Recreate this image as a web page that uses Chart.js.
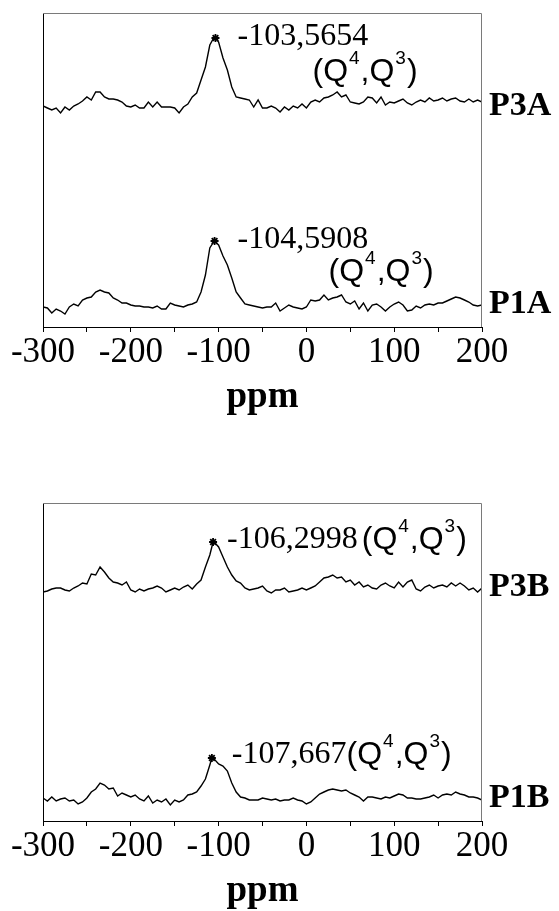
<!DOCTYPE html>
<html>
<head>
<meta charset="utf-8">
<script src="https://cdn.jsdelivr.net/npm/chart.js@4.4.1/dist/chart.umd.min.js"></script>
<style>
  html, body { margin: 0; padding: 0; background: #fff; overflow: hidden; }
  #wrap { position: relative; width: 559px; height: 911px; }
  canvas { position: absolute; left: 0; }
</style>
</head>
<body>
<div id="wrap">
  <canvas id="panelA" width="559" height="424" style="top:0"></canvas>
  <canvas id="panelB" width="559" height="428" style="top:490px"></canvas>
</div>
<script>
// chemical shift grid (ppm), one reading every 5 ppm
const shifts = [
  -300, -295, -290, -285, -280, -275, -270, -265, -260, -255,
  -250, -245, -240, -235, -230, -225, -220, -215, -210, -205,
  -200, -195, -190, -185, -180, -175, -170, -165, -160, -155,
  -150, -145, -140, -135, -130, -125, -120, -115, -110, -105,
  -100, -95, -90, -85, -80, -75, -70, -65, -60, -55,
  -50, -45, -40, -35, -30, -25, -20, -15, -10, -5,
  0, 5, 10, 15, 20, 25, 30, 35, 40, 45,
  50, 55, 60, 65, 70, 75, 80, 85, 90, 95,
  100, 105, 110, 115, 120, 125, 130, 135, 140, 145,
  150, 155, 160, 165, 170, 175, 180, 185, 190, 195,
  200
];

// 29Si intensities (arb. units) for each sample
const p3a = [
  2, 0, -2, 0, -5, 1, -2, 2, 4, 7,
  11, 8, 16, 16, 11, 9, 9, 8, 6, 2,
  1, 3, 0, 0, 6, 1, 6, 1, 1, 1,
  0, -5, 1, 4, 11, 15, 28, 41, 63, 71,
  66, 50, 38, 21, 11, 10, 9, 8, 1, 8,
  0, 0, 2, 0, -4, 1, -2, 2, 0, 4,
  0, 6, 8, 6, 10, 11, 13, 16, 11, 13,
  6, 5, 4, 6, 11, 10, 5, 11, 3, 6,
  5, 7, 9, 5, 3, 6, 8, 6, 10, 7,
  8, 10, 7, 9, 10, 7, 6, 9, 6, 8,
  6
];
const p1a = [
  -1, -2, -7, -3, -5, -8, -1, 2, 0, 6,
  8, 9, 14, 16, 14, 13, 8, 6, 3, 3,
  1, 0, 0, -1, -1, -2, 0, -3, -3, 3,
  1, 0, -1, 1, 2, 4, 14, 31, 58, 65,
  61, 50, 41, 28, 14, 8, 2, 1, 0, -1,
  -2, -1, -1, 3, -5, -2, 1, -1, -2, -3,
  -1, 6, 5, 6, 11, 6, 8, 9, 11, 4,
  2, 5, -3, 3, -5, 1, 2, -1, -5, -1,
  2, 4, 1, -5, -4, 0, -2, 1, 2, 1,
  3, 3, 5, 7, 9, 8, 6, 4, 1, 0,
  1
];
const p3b = [
  -3, -2, 0, 1, 1, -1, -2, 1, 3, 6,
  5, 15, 14, 22, 17, 11, 7, 6, 4, 7,
  -1, -3, 0, -2, 0, 1, 3, 1, -3, -1,
  1, -1, 2, 4, 0, 5, 9, 22, 34, 47,
  42, 32, 22, 14, 8, 6, 1, -1, 0, 1,
  3, -2, -4, -1, -1, 1, -3, -2, -1, 1,
  -1, 1, 3, 7, 11, 12, 14, 11, 12, 7,
  9, 4, 7, 2, 4, 1, 0, 4, 6, 3,
  1, 7, 2, 7, 9, 0, -2, 2, 4, 1,
  3, 4, 2, 6, 3, 6, 3, -1, 1, -3,
  1
];
const p1b = [
  2, -1, 3, -1, 1, 2, -1, 0, -4, -2,
  2, 8, 11, 17, 15, 11, 12, 4, 7, 5,
  3, 5, 1, -1, 4, -3, 0, -2, 1, -5,
  0, -2, 0, 5, 6, 8, 14, 21, 35, 41,
  36, 34, 29, 17, 8, 3, 2, 0, 0, 0,
  2, 1, 0, 1, -1, 0, 0, 2, 0, -1,
  -4, -2, 2, 6, 8, 10, 11, 10, 9, 10,
  7, 5, 3, -1, 3, 3, 2, 1, 3, 2,
  4, 6, 5, 2, 2, 1, 1, 2, 3, 5,
  2, 5, 6, 5, 8, 6, 5, 3, 3, 2,
  0
];

// labelled maxima: position (ppm) and height
const sampleNames = ['P3A', 'P1A', 'P3B', 'P1B'];
const peakShifts = [-103.5654, -104.5908, -106.2998, -107.667];
const peakHeights = [70, 65, 47, 42];

// x-axis tick labels
const xTickLabels = [-300, -200, -100, 0, 100, 200];

function traceData(values, i) {
  const pts = shifts.map((s, k) => ({ x: s, y: values[k] }));
  pts.push({ x: peakShifts[i], y: peakHeights[i] });
  return pts.sort((a, b) => a.x - b.x);
}

// "(Q4,Q3)" with raised site labels
function drawQ(ctx, x, y, size) {
  const parts = [['(', 0], ['Q', 0], ['4', 1], [',', 0], ['Q', 0], ['3', 1], [')', 0]];
  const small = Math.round(size * 0.6);
  ctx.textAlign = 'left';
  ctx.textBaseline = 'middle';
  parts.forEach(([t, sup]) => {
    ctx.font = (sup ? small : size) + 'px "Liberation Sans"';
    ctx.fillText(t, x + (sup ? 1 : 0), sup ? y - size * 0.4 : y);
    x += ctx.measureText(t).width + (sup ? 2 : 0);
  });
}

const labelsPlugin = {
  id: 'spectrumLabels',
  afterDatasetsDraw(chart, args, opts) {
    const { ctx, chartArea: a, scales } = chart;
    ctx.save();
    ctx.lineWidth = 1;
    ctx.strokeStyle = '#000';
    ctx.beginPath();
    ctx.moveTo(a.left + 0.5, a.top);
    ctx.lineTo(a.left + 0.5, a.bottom);
    ctx.stroke();
    ctx.strokeStyle = '#7a7a7a';
    ctx.beginPath();
    ctx.moveTo(a.left, a.top + 0.5);
    ctx.lineTo(a.right - 0.5, a.top + 0.5);
    ctx.lineTo(a.right - 0.5, a.bottom);
    ctx.stroke();

    ctx.fillStyle = '#000';
    opts.traces.forEach(t => {
      const ys = scales[t.axis];
      ctx.font = 'bold 34px "Liberation Serif"';
      ctx.textAlign = 'left';
      ctx.textBaseline = 'middle';
      ctx.fillText(sampleNames[t.idx], a.right + 7, ys.getPixelForValue(0) - 2);

      const px = scales.x.getPixelForValue(peakShifts[t.idx]);
      const py = ys.getPixelForValue(peakHeights[t.idx]);
      const num = String(peakShifts[t.idx]).replace('.', ',');
      ctx.font = '32px "Liberation Serif"';
      ctx.fillText(num, px + t.dx, py + t.dy);
      if (t.inline) {
        drawQ(ctx, px + t.dx + ctx.measureText(num).width + t.gap, py + t.dy, 32);
      } else {
        drawQ(ctx, px + t.qx, py + t.qy, 32);
      }
    });
    ctx.restore();
  }
};

function makePanel(id, upper, lower, iu, il, rangeU, rangeL, axisH, traces) {
  return new Chart(document.getElementById(id), {
    type: 'line',
    data: {
      datasets: [
        { data: traceData(upper, iu), yAxisID: 'yU', borderColor: '#000', borderWidth: 1.4, pointRadius: 0, tension: 0 },
        { data: traceData(lower, il), yAxisID: 'yL', borderColor: '#000', borderWidth: 1.4, pointRadius: 0, tension: 0 },
        { data: [{ x: peakShifts[iu], y: peakHeights[iu] }], yAxisID: 'yU', showLine: false,
          pointStyle: 'star', pointRadius: 4, borderColor: '#000', borderWidth: 1.8 },
        { data: [{ x: peakShifts[il], y: peakHeights[il] }], yAxisID: 'yL', showLine: false,
          pointStyle: 'star', pointRadius: 4, borderColor: '#000', borderWidth: 1.8 }
      ]
    },
    options: {
      responsive: false,
      animation: false,
      layout: { padding: { left: 43, right: 77, top: 13, bottom: 0 } },
      plugins: {
        legend: { display: false },
        tooltip: { enabled: false },
        spectrumLabels: { traces: traces }
      },
      scales: {
        x: {
          type: 'linear',
          min: -300,
          max: 200,
          afterFit: s => { s.height = axisH; },
          border: { color: '#000', width: 1 },
          grid: { display: true, drawOnChartArea: false, drawTicks: true, tickLength: 5, color: '#000' },
          ticks: {
            stepSize: 50,
            autoSkip: false,
            maxRotation: 0,
            padding: 0,
            color: '#000',
            font: { family: 'Liberation Serif', size: 35 },
            callback: v => xTickLabels.includes(v) ? String(v) : ''
          },
          title: {
            display: true,
            text: 'ppm',
            color: '#000',
            padding: { top: 0, bottom: 4 },
            font: { family: 'Liberation Serif', size: 37, weight: 'bold' }
          }
        },
        yU: { display: false, min: rangeU[0], max: rangeU[1] },
        yL: { display: false, min: rangeL[0], max: rangeL[1] }
      }
    },
    plugins: [labelsPlugin]
  });
}

makePanel('panelA', p3a, p1a, 0, 1, [-219, 95], [-21, 293], 97, [
  { idx: 0, axis: 'yU', dx: 22, dy: -1, qx: 97, qy: 34 },
  { idx: 1, axis: 'yL', dx: 23, dy: -1, qx: 114, qy: 31 }
]);

makePanel('panelB', p3b, p1b, 2, 3, [-232, 86], [-21, 297], 97, [
  { idx: 2, axis: 'yU', dx: 14, dy: -2, inline: true, gap: 4 },
  { idx: 3, axis: 'yL', dx: 20, dy: -3, inline: true, gap: 0 }
]);
</script>
</body>
</html>
